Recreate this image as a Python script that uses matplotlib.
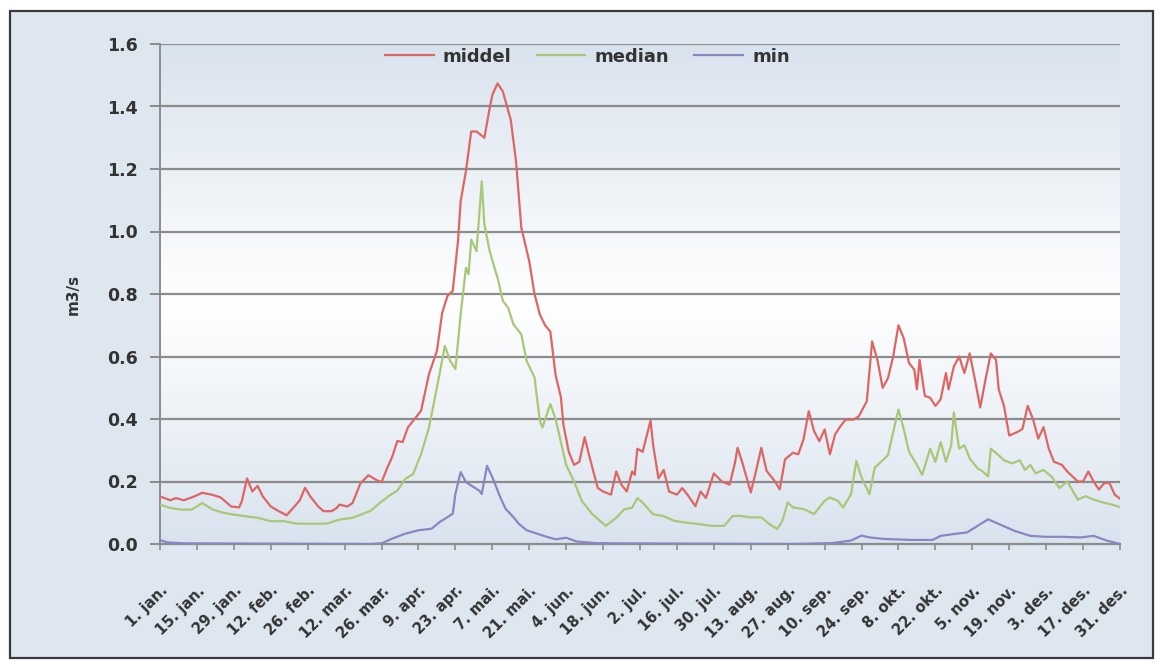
import numpy as np
import matplotlib
matplotlib.use("Agg")
import matplotlib.pyplot as plt
from matplotlib.colors import LinearSegmentedColormap
from matplotlib.patches import Rectangle

# daily discharge through the year, day 0 = 1. jan.
middel_dag = [0, 4, 6, 9, 13, 16, 20, 23, 27, 30, 31, 33, 35, 37, 39, 42, 45, 48, 51, 53,
              55, 57, 60, 62, 65, 67, 68, 71, 73, 76, 79, 82, 84, 86, 88, 90, 92, 94, 97, 99,
              101, 102, 105, 107, 109, 111, 113, 114, 116, 118, 120, 123, 125, 126, 128, 130,
              133, 135, 137, 140, 142, 144, 146, 148, 150, 152, 153, 155, 157, 159, 161, 163,
              166, 168, 171, 173, 175, 177, 179, 180, 181, 183, 186, 187, 189, 191, 193, 196,
              198, 200, 203, 205, 207, 210, 213, 216, 218, 219, 221, 224, 226, 228, 230, 233,
              235, 237, 240, 242, 244, 246, 248, 250, 252, 254, 256, 258, 260, 263, 265, 268,
              270, 272, 274, 276, 278, 280, 282, 284, 286, 287, 288, 290, 292, 294, 296, 298,
              299, 301, 303, 305, 307, 309, 311, 313, 315, 317, 318, 320, 322, 325, 327, 329,
              331, 333, 335, 337, 339, 342, 344, 348, 350, 352, 354, 356, 358, 360, 362, 364]
middel = [0.152, 0.140, 0.147, 0.140, 0.152, 0.164, 0.157, 0.149, 0.120, 0.117, 0.136, 0.210,
          0.168, 0.186, 0.152, 0.120, 0.105, 0.092, 0.120, 0.140, 0.180, 0.152, 0.120, 0.105,
          0.105, 0.115, 0.126, 0.120, 0.131, 0.194, 0.220, 0.205, 0.198, 0.240, 0.278, 0.330,
          0.326, 0.373, 0.405, 0.427, 0.506, 0.544, 0.618, 0.740, 0.794, 0.810, 0.970, 1.097,
          1.193, 1.320, 1.320, 1.300, 1.395, 1.437, 1.474, 1.448, 1.357, 1.224, 1.012, 0.905,
          0.800, 0.735, 0.700, 0.680, 0.540, 0.470, 0.379, 0.295, 0.253, 0.263, 0.342, 0.274,
          0.179, 0.168, 0.158, 0.232, 0.189, 0.168, 0.232, 0.221, 0.305, 0.295, 0.395, 0.316,
          0.210, 0.237, 0.168, 0.158, 0.179, 0.158, 0.121, 0.168, 0.147, 0.226, 0.200, 0.190,
          0.260, 0.308, 0.255, 0.165, 0.234, 0.308, 0.234, 0.202, 0.175, 0.271, 0.292, 0.287,
          0.335, 0.425, 0.361, 0.329, 0.367, 0.287, 0.351, 0.377, 0.398, 0.398, 0.409, 0.457,
          0.648, 0.590, 0.500, 0.530, 0.600, 0.700, 0.658, 0.579, 0.558, 0.495, 0.589, 0.474,
          0.468, 0.442, 0.463, 0.547, 0.495, 0.568, 0.600, 0.547, 0.610, 0.526, 0.437, 0.526,
          0.610, 0.589, 0.495, 0.442, 0.347, 0.358, 0.368, 0.442, 0.400, 0.337, 0.374, 0.305,
          0.263, 0.253, 0.232, 0.200, 0.200, 0.232, 0.200, 0.174, 0.195, 0.195, 0.158, 0.145]

median_dag = [0, 4, 8, 12, 16, 20, 24, 28, 33, 37, 42, 47, 52, 58, 63, 68, 73, 78, 80, 83, 87,
              90, 93, 96, 99, 102, 104, 106, 108, 110, 112, 114, 116, 117, 118, 120, 122, 123,
              125, 127, 128, 130, 132, 134, 137, 139, 142, 144, 145, 148, 150, 152, 154, 157,
              160, 164, 169, 173, 176, 179, 181, 183, 187, 191, 195, 200, 205, 209, 214, 217,
              220, 224, 228, 231, 234, 236, 238, 240, 244, 248, 252, 254, 257, 259, 262, 264,
              266, 269, 271, 273, 276, 278, 280, 282, 284, 287, 289, 292, 294, 296, 298, 300,
              301, 303, 305, 307, 310, 312, 314, 315, 318, 320, 323, 326, 328, 330, 332, 335,
              338, 341, 344, 348, 351, 354, 358, 361, 364]
median = [0.126, 0.115, 0.110, 0.110, 0.131, 0.110, 0.100, 0.094, 0.088, 0.084, 0.073, 0.073,
          0.065, 0.065, 0.065, 0.078, 0.084, 0.100, 0.107, 0.129, 0.155, 0.171, 0.208, 0.224,
          0.288, 0.373, 0.458, 0.544, 0.634, 0.586, 0.560, 0.735, 0.884, 0.863, 0.974, 0.937,
          1.160, 1.022, 0.937, 0.879, 0.852, 0.778, 0.756, 0.703, 0.671, 0.586, 0.533, 0.395,
          0.373, 0.448, 0.400, 0.326, 0.253, 0.200, 0.137, 0.095, 0.058, 0.084, 0.111, 0.116,
          0.147, 0.132, 0.095, 0.089, 0.074, 0.068, 0.063, 0.058, 0.058, 0.089, 0.090, 0.085,
          0.085, 0.064, 0.048, 0.074, 0.133, 0.117, 0.112, 0.096, 0.138, 0.149, 0.138, 0.117,
          0.159, 0.266, 0.213, 0.159, 0.244, 0.260, 0.284, 0.358, 0.430, 0.368, 0.295, 0.253,
          0.221, 0.305, 0.263, 0.326, 0.263, 0.316, 0.421, 0.305, 0.316, 0.274, 0.242, 0.232,
          0.216, 0.305, 0.284, 0.268, 0.258, 0.268, 0.237, 0.253, 0.226, 0.237, 0.216, 0.179,
          0.200, 0.142, 0.153, 0.142, 0.132, 0.126, 0.118]

min_dag = [0, 3, 10, 80, 84, 88, 93, 98, 103, 106, 109, 111, 112, 114, 116, 118, 121, 122, 124,
           126, 129, 131, 134, 136, 139, 143, 147, 150, 154, 158, 165, 175, 240, 255, 262, 266,
           269, 275, 285, 293, 296, 301, 306, 310, 314, 317, 324, 330, 336, 342, 349, 354, 359,
           364]
minimum = [0.012, 0.005, 0.002, 0.000, 0.002, 0.017, 0.033, 0.044, 0.049, 0.070, 0.086, 0.097,
           0.160, 0.230, 0.198, 0.187, 0.171, 0.160, 0.250, 0.214, 0.150, 0.113, 0.086, 0.065,
           0.044, 0.033, 0.022, 0.015, 0.020, 0.008, 0.003, 0.002, 0.000, 0.003, 0.011, 0.027,
           0.021, 0.016, 0.013, 0.013, 0.026, 0.032, 0.037, 0.058, 0.079, 0.068, 0.042, 0.026,
           0.023, 0.023, 0.021, 0.026, 0.011, 0.000]

tick_dag = list(range(0, 365, 14))
tick_tekst = ["1. jan.", "15. jan.", "29. jan.", "12. feb.", "26. feb.", "12. mar.", "26. mar.",
              "9. apr.", "23. apr.", "7. mai.", "21. mai.", "4. jun.", "18. jun.", "2. jul.",
              "16. jul.", "30. jul.", "13. aug.", "27. aug.", "10. sep.", "24. sep.", "8. okt.",
              "22. okt.", "5. nov.", "19. nov.", "3. des.", "17. des.", "31. des."]

tekstfarge = "#333333"
strekfarge = "#8c8c8c"

fig = plt.figure(figsize=(11.6, 6.65), dpi=100, facecolor="white")
# panel behind the chart with a dark frame
fig.add_artist(Rectangle((10 / 1160, 7 / 665), 1143 / 1160, 647 / 665, transform=fig.transFigure,
                         facecolor="#dee6f0", edgecolor="#3a3a3a", linewidth=1.6, zorder=0))
ax = fig.add_axes([160 / 1160, 1 - 544 / 665, 960 / 1160, 500 / 665])
ax.set_facecolor("none")

# vertical gradient: blue at top and bottom, white in the middle
cmap = LinearSegmentedColormap.from_list("bg", [(0.0, "#d9e3ee"), (0.52, "#ffffff"), (1.0, "#d9e3ee")])
grad = np.linspace(0, 1, 256).reshape(-1, 1)
ax.imshow(grad, cmap=cmap, aspect="auto", extent=(0, 1, 0, 1), transform=ax.transAxes,
          origin="upper", zorder=0)

for v in np.arange(0.2, 1.61, 0.2):
    ax.axhline(v, color=strekfarge, linewidth=1.6, zorder=1)

ax.plot(middel_dag, middel, color="#dd6664", linewidth=1.6, label="middel", zorder=3)
ax.plot(median_dag, median, color="#a9c877", linewidth=1.6, label="median", zorder=3)
ax.plot(min_dag, minimum, color="#8a86c2", linewidth=1.6, label="min", zorder=3)

ax.set_xlim(0, 364)
ax.set_ylim(0, 1.6)
ax.set_yticks(np.arange(0, 1.61, 0.2))
ax.set_yticklabels([f"{v:.1f}" for v in np.arange(0, 1.61, 0.2)], fontsize=12.5,
                   fontweight="bold", color=tekstfarge)
ax.set_xticks(tick_dag)
ax.set_xticklabels(tick_tekst, rotation=45, ha="right", rotation_mode="anchor",
                   fontsize=10.5, fontweight="bold", color=tekstfarge)
ax.tick_params(axis="y", length=7, width=1.4, color=strekfarge, pad=9)
ax.tick_params(axis="x", length=4, width=1.2, color=strekfarge, pad=24)

for side in ["top", "right"]:
    ax.spines[side].set_visible(False)
ax.spines["left"].set_color(strekfarge)
ax.spines["left"].set_linewidth(1.4)
ax.spines["bottom"].set_color(strekfarge)
ax.spines["bottom"].set_linewidth(1.6)

ax.set_ylabel("m3/s", fontsize=11, fontweight="bold", color=tekstfarge, labelpad=19)

ax.legend(loc="upper center", bbox_to_anchor=(0.445, 1.025), ncol=3, frameon=False,
          prop={"size": 13, "weight": "bold"}, handlelength=2.7, columnspacing=1.4,
          handletextpad=0.5, labelcolor=tekstfarge)

fig.savefig("out.png", dpi=100)
